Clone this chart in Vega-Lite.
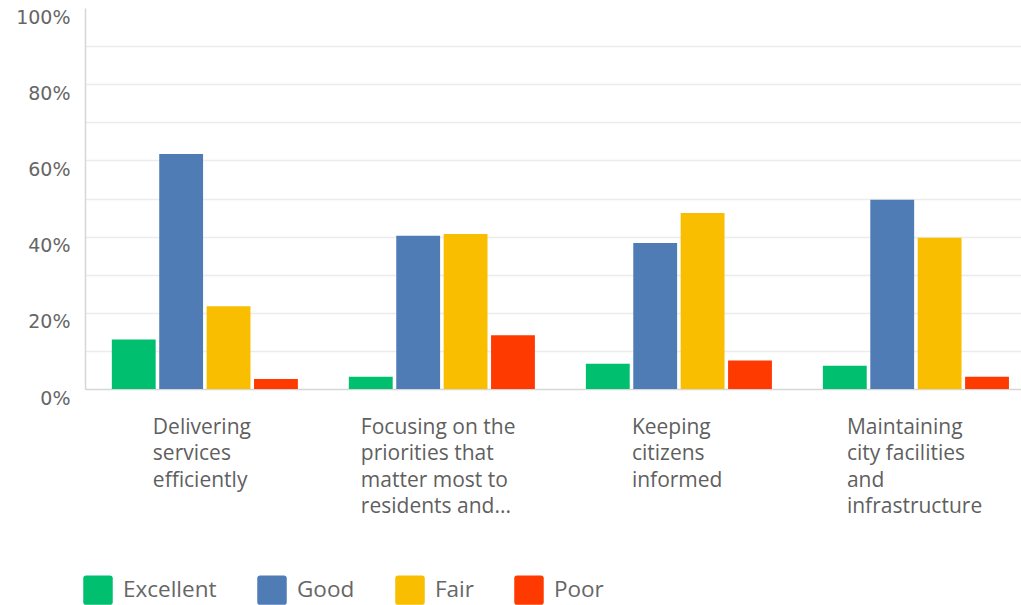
{
  "$schema": "https://vega.github.io/schema/vega-lite/v6.json",
  "autosize": {"type": "none"},
  "padding": {"left": 85, "top": 8, "right": 0, "bottom": 216},
  "width": 936,
  "height": 381,
  "background": "white",
  "config": {"view": {"stroke": null}},
  "data": {
    "values": [
      {"question": "Delivering services efficiently", "rating": "Excellent", "value": 0.130},
      {"question": "Delivering services efficiently", "rating": "Good", "value": 0.617},
      {"question": "Delivering services efficiently", "rating": "Fair", "value": 0.217},
      {"question": "Delivering services efficiently", "rating": "Poor", "value": 0.026},
      {"question": "Focusing on the priorities that matter most to residents and...", "rating": "Excellent", "value": 0.032},
      {"question": "Focusing on the priorities that matter most to residents and...", "rating": "Good", "value": 0.402},
      {"question": "Focusing on the priorities that matter most to residents and...", "rating": "Fair", "value": 0.407},
      {"question": "Focusing on the priorities that matter most to residents and...", "rating": "Poor", "value": 0.141},
      {"question": "Keeping citizens informed", "rating": "Excellent", "value": 0.066},
      {"question": "Keeping citizens informed", "rating": "Good", "value": 0.383},
      {"question": "Keeping citizens informed", "rating": "Fair", "value": 0.462},
      {"question": "Keeping citizens informed", "rating": "Poor", "value": 0.075},
      {"question": "Maintaining city facilities and infrastructure", "rating": "Excellent", "value": 0.061},
      {"question": "Maintaining city facilities and infrastructure", "rating": "Good", "value": 0.497},
      {"question": "Maintaining city facilities and infrastructure", "rating": "Fair", "value": 0.397},
      {"question": "Maintaining city facilities and infrastructure", "rating": "Poor", "value": 0.032}
    ]
  },
  "mark": {"type": "bar"},
  "encoding": {
    "x": {
      "field": "question",
      "type": "nominal",
      "sort": null,
      "scale": {"paddingInner": 0.215, "paddingOuter": 0.082, "align": 0.69},
      "axis": {
        "title": null,
        "labelAngle": 0,
        "ticks": false,
        "domainColor": "#d6d6d6",
        "domainWidth": 1.5,
        "labelFont": "Open Sans",
        "labelFontSize": 21,
        "labelColor": "#5f5f5f",
        "labelAlign": "left",
        "labelBaseline": "top",
        "labelPadding": 27,
        "labelLineHeight": 26.5,
        "labelOverlap": false,
        "labelBound": false,
        "labelLimit": 0,
        "labelOffset": {
          "condition": [
            {"test": "datum.value == 'Delivering services efficiently'", "value": -52},
            {"test": "datum.value == 'Keeping citizens informed'", "value": -47},
            {"test": "datum.value == 'Maintaining city facilities and infrastructure'", "value": -69}
          ],
          "value": -81
        },
        "labelExpr": "datum.value == 'Delivering services efficiently' ? ['Delivering','services','efficiently'] : datum.value == 'Keeping citizens informed' ? ['Keeping','citizens','informed'] : datum.value == 'Maintaining city facilities and infrastructure' ? ['Maintaining','city facilities','and','infrastructure'] : ['Focusing on the','priorities that','matter most to','residents and...']"
      }
    },
    "xOffset": {
      "field": "rating",
      "type": "nominal",
      "sort": ["Excellent", "Good", "Fair", "Poor"],
      "scale": {"paddingInner": 0.075, "paddingOuter": 0}
    },
    "y": {
      "field": "value",
      "type": "quantitative",
      "scale": {"domain": [0, 1], "nice": false},
      "axis": {
        "title": null,
        "values": [0, 0.1, 0.2, 0.3, 0.4, 0.5, 0.6, 0.7, 0.8, 0.9, 1],
        "labelExpr": "round(datum.value * 100) % 20 == 0 ? format(datum.value, '.0%') : ''",
        "ticks": false,
        "domainColor": "#d6d6d6",
        "domainWidth": 1.5,
        "gridColor": {"condition": {"test": "datum.value >= 0.99 || datum.value <= 0.01", "value": "transparent"}, "value": "#ececec"},
        "gridWidth": 1.5,
        "labelFont": "DejaVu Sans",
        "labelFontSize": 19,
        "labelColor": "#666666",
        "labelPadding": 15,
        "labelOffset": 9
      }
    },
    "color": {
      "field": "rating",
      "type": "nominal",
      "sort": ["Excellent", "Good", "Fair", "Poor"],
      "scale": {
        "domain": ["Excellent", "Good", "Fair", "Poor"],
        "range": ["#00bf6f", "#507cb6", "#f9be00", "#ff3a00"]
      },
      "legend": {
        "title": null,
        "orient": "none",
        "direction": "horizontal",
        "legendX": -2,
        "legendY": 567,
        "padding": 0,
        "symbolType": "M-0.8,-1 L0.8,-1 Q1,-1 1,-0.8 L1,0.8 Q1,1 0.8,1 L-0.8,1 Q-1,1 -1,0.8 L-1,-0.8 Q-1,-1 -0.8,-1 Z",
        "symbolSize": 870,
        "symbolStrokeWidth": 0,
        "symbolOpacity": 1,
        "labelFont": "Open Sans",
        "labelFontSize": 22.5,
        "labelColor": "#666666",
        "labelOffset": 10,
        "columnPadding": 40
      }
    }
  }
}
